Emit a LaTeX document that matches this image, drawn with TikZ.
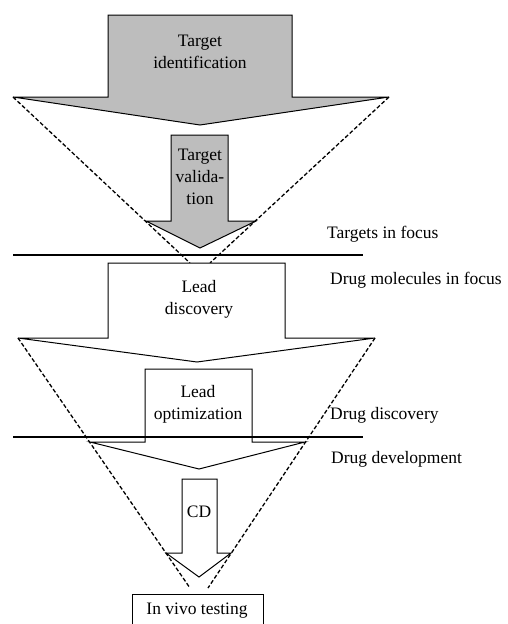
\documentclass[tikz,border=0pt]{standalone}
\usepackage{fontspec}
\setmainfont{Liberation Serif}
\begin{document}
\begin{tikzpicture}[x=1pt,y=-1pt,
  shapeline/.style={draw=black, line width=1pt, line join=miter},
  grayarrow/.style={shapeline, fill=black!26},
  whitearrow/.style={shapeline, fill=white},
  guide/.style={draw=black, dash pattern=on 4pt off 2.2pt, line width=1.3pt},
  divider/.style={draw=black, line width=1.7pt},
  lbl/.style={font=\fontsize{17.5}{22}\selectfont, align=center, inner sep=0pt},
  sidelbl/.style={font=\fontsize{17.5}{21}\selectfont, anchor=west, inner sep=0pt}]
\useasboundingbox (0,0) rectangle (508,624);

% arrow 1: target identification
\draw[grayarrow] (108,15) -- (292,15) -- (292,97) -- (389,97) -- (200,125) -- (13,97) -- (108,97) -- cycle;
% arrow 2: target validation
\draw[grayarrow] (171,135) -- (228,135) -- (228,221) -- (256,221) -- (200,248) -- (146,221) -- (171,221) -- cycle;

\coordinate (t1l) at (13,97);
\coordinate (t1r) at (389,97);
\coordinate (t1le) at (190,263);
\coordinate (t1re) at (210,263);
\draw[guide] (t1l) -- (t1le);
\draw[guide] (t1r) -- (t1re);

% divider 1
\coordinate (d1a) at (13,255);
\coordinate (d1b) at (363,255);
\draw[divider] (d1a) -- (d1b);

% arrow 3: lead discovery
\draw[whitearrow] (108,263) -- (285,263) -- (285,338) -- (375,338) -- (197,362) -- (18,338) -- (108,338) -- cycle;
% arrow 4: lead optimization
\draw[whitearrow] (145,369) -- (252,369) -- (252,442) -- (305,442) -- (199,469) -- (90,442) -- (145,442) -- cycle;

% divider 2
\coordinate (d2a) at (13,437);
\coordinate (d2b) at (363,437);
\draw[divider] (d2a) -- (d2b);

% arrow 5: CD
\draw[whitearrow] (182,479) -- (217,479) -- (217,553) -- (231,553) -- (199,577) -- (166,553) -- (182,553) -- cycle;

\coordinate (t2l) at (18,338);
\coordinate (t2r) at (375,338);
\coordinate (t2le) at (190,588);
\coordinate (t2re) at (208,588);
\draw[guide] (t2l) -- (t2le);
\draw[guide] (t2r) -- (t2re);

% in vivo box
\draw[shapeline, fill=white] (132,594) rectangle (263,627);

% texts
\node[lbl] (tid) at (200,52) {Target\\identification};
\node[lbl] (tval) at (200,177) {Target\\valida-\\tion};
\node[lbl] (ldis) at (199,299) {Lead\\discovery};
\node[lbl] (lopt) at (198,404) {Lead\\optimization};
\node[lbl] (cd) at (199,512) {CD};
\node[lbl] (ivt) at (197,611) {In vivo testing};

\node[sidelbl] (tif) at (327,234) {Targets in focus};
\node[sidelbl] (dmf) at (330,280) {Drug molecules in focus};
\node[sidelbl] (ddi) at (330,415) {Drug discovery};
\node[sidelbl] (dde) at (331,459) {Drug development};
\end{tikzpicture}
\end{document}
